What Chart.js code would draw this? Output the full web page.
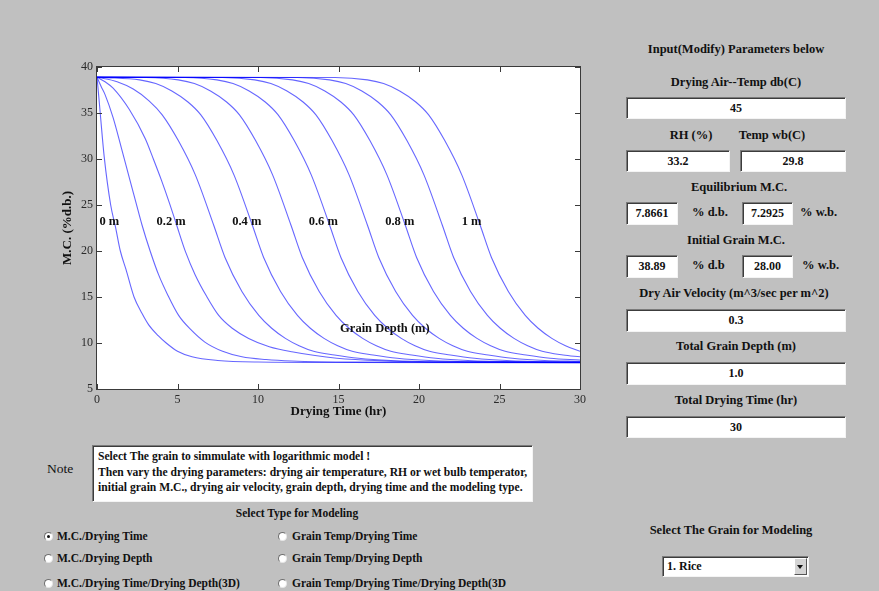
<!DOCTYPE html>
<html>
<head>
<meta charset="utf-8">
<title>Grain Drying Simulation</title>
<script src="https://cdn.jsdelivr.net/npm/chart.js@4.4.0/dist/chart.umd.min.js"></script>
<style>
    html, body {
        margin: 0;
        padding: 0;
    }
    body {
        width: 879px;
        height: 591px;
        overflow: hidden;
        position: relative;
        background: #c0c0c0;
        font-family: "Liberation Serif", "DejaVu Serif", serif;
    }
    #dryingChart {
        position: absolute;
        left: 0;
        top: 0;
    }
    .lbl {
        position: absolute;
        font-size: 12.5px;
        font-weight: bold;
        line-height: 14px;
        color: #111;
        white-space: nowrap;
    }
    .sm {
        font-size: 11.5px;
    }
    .ctr {
        text-align: center;
    }
    .edit {
        position: absolute;
        box-sizing: border-box;
        background: #fff;
        border-top: 1px solid #7b7b7b;
        border-left: 1px solid #7b7b7b;
        border-bottom: 1px solid #f4f4f4;
        border-right: 1px solid #f4f4f4;
        box-shadow: inset 1px 1px 0 #3c3c3c;
        font-size: 12px;
        font-weight: bold;
        color: #111;
        text-align: center;
        white-space: nowrap;
    }
    .radio {
        position: absolute;
        width: 9px;
        height: 9px;
        box-sizing: border-box;
        border-radius: 50%;
        background: #fff;
        border-top: 1px solid #6e6e6e;
        border-left: 1px solid #6e6e6e;
        border-bottom: 1px solid #e6e6e6;
        border-right: 1px solid #e6e6e6;
    }
    .radio.on::after {
        content: "";
        position: absolute;
        left: 2px;
        top: 2px;
        width: 3px;
        height: 3px;
        border-radius: 50%;
        background: #111;
    }
</style>
</head>
<body>

<canvas id="dryingChart" width="600" height="430"></canvas>

<!-- ================= RIGHT PANEL ================= -->

<div class="lbl ctr" style="left:626px;top:42px;width:220px;">Input(Modify) Parameters below</div>
<div class="lbl ctr" style="left:626px;top:75px;width:220px;">Drying Air--Temp db(C)</div>
<div class="edit" style="left:626px;top:97px;width:220px;height:22px;line-height:20px;">45</div>

<div class="lbl ctr" style="left:651px;top:128px;width:80px;">RH (%)</div>
<div class="lbl ctr" style="left:732px;top:128px;width:80px;">Temp wb(C)</div>
<div class="edit" style="left:626px;top:150px;width:104px;height:22px;line-height:20px;">33.2</div>
<div class="edit" style="left:740px;top:150px;width:106px;height:22px;line-height:20px;">29.8</div>

<div class="lbl ctr" style="left:629px;top:180px;width:220px;">Equilibrium M.C.</div>
<div class="edit" style="left:626px;top:202px;width:52px;height:23px;line-height:21px;">7.8661</div>
<div class="lbl" style="left:692px;top:205px;">% d.b.</div>
<div class="edit" style="left:742px;top:202px;width:51px;height:23px;line-height:21px;">7.2925</div>
<div class="lbl" style="left:800px;top:205px;">% w.b.</div>

<div class="lbl ctr" style="left:626px;top:233px;width:220px;">Initial Grain M.C.</div>
<div class="edit" style="left:626px;top:255px;width:52px;height:23px;line-height:21px;">38.89</div>
<div class="lbl" style="left:692px;top:258px;">% d.b</div>
<div class="edit" style="left:742px;top:255px;width:51px;height:23px;line-height:21px;">28.00</div>
<div class="lbl" style="left:802px;top:258px;">% w.b.</div>

<div class="lbl ctr" style="left:624px;top:286px;width:220px;">Dry Air Velocity (m^3/sec per m^2)</div>
<div class="edit" style="left:626px;top:309px;width:220px;height:23px;line-height:21px;">0.3</div>

<div class="lbl ctr" style="left:626px;top:339px;width:220px;">Total Grain Depth (m)</div>
<div class="edit" style="left:626px;top:362px;width:220px;height:23px;line-height:21px;">1.0</div>

<div class="lbl ctr" style="left:626px;top:393px;width:220px;">Total Drying Time (hr)</div>
<div class="edit" style="left:626px;top:416px;width:220px;height:22px;line-height:20px;">30</div>

<div class="lbl ctr" style="left:621px;top:523px;width:220px;">Select The Grain for Modeling</div>
<div class="edit" style="left:662px;top:556px;width:147px;height:21px;line-height:19px;text-align:left;padding-left:4px;">1. Rice</div>
<div style="position:absolute;left:794px;top:558px;width:13px;height:17px;box-sizing:border-box;background:#d4d4d4;border-top:1px solid #fff;border-left:1px solid #fff;border-bottom:1px solid #555;border-right:1px solid #555;">
    <div style="position:absolute;left:2px;top:6px;width:0;height:0;border-left:3.5px solid transparent;border-right:3.5px solid transparent;border-top:4px solid #111;"></div>
</div>

<!-- ================= NOTE + MODEL TYPE ================= -->

<div class="lbl" style="left:47px;top:462px;font-size:13.5px;font-weight:normal;">Note</div>
<div class="edit" style="left:92px;top:445px;width:441px;height:57px;text-align:left;padding:3px 0 0 5px;line-height:15.5px;font-size:11.6px;">
    Select The grain to simmulate with logarithmic model !<br>
    Then vary the drying parameters: drying air temperature, RH or wet bulb temperator,<br>
    initial grain M.C., drying air velocity, grain depth, drying time and the modeling type.
</div>

<div class="lbl sm ctr" style="left:187px;top:506px;width:220px;">Select Type for Modeling</div>

<span class="radio on" style="left:44px;top:532px;"></span>
<div class="lbl sm" style="left:57px;top:529px;">M.C./Drying Time</div>
<span class="radio" style="left:44px;top:554px;"></span>
<div class="lbl sm" style="left:57px;top:551px;">M.C./Drying Depth</div>
<span class="radio" style="left:44px;top:579px;"></span>
<div class="lbl sm" style="left:57px;top:576px;">M.C./Drying Time/Drying Depth(3D)</div>

<span class="radio" style="left:278px;top:532px;"></span>
<div class="lbl sm" style="left:292px;top:529px;">Grain Temp/Drying Time</div>
<span class="radio" style="left:278px;top:554px;"></span>
<div class="lbl sm" style="left:292px;top:551px;">Grain Temp/Drying Depth</div>
<span class="radio" style="left:278px;top:579px;"></span>
<div class="lbl sm" style="left:292px;top:576px;">Grain Temp/Drying Time/Drying Depth(3D</div>

<script>
/* =====================================================
   DEEP BED DRYING – M.C. vs DRYING TIME
===================================================== */

/* ================= DATA ================= */

const depthNames = ["0 m", "0.1 m", "0.2 m", "0.3 m", "0.4 m", "0.5 m",
                    "0.6 m", "0.7 m", "0.8 m", "0.9 m", "1 m"];

const labelledDepths = ["0 m", "0.2 m", "0.4 m", "0.6 m", "0.8 m", "1 m"];

const xTickValues = [0, 5, 10, 15, 20, 25, 30];
const yTickValues = [5, 10, 15, 20, 25, 30, 35, 40];

// [drying time (hr), M.C. (% d.b.)]
const mc00 = [[0,38.89],[0.1,37.0],[0.2,35.0],[0.45,30.2],[0.85,25.0],[1.15,22.6],[1.45,20.0],
              [1.8,18.0],[2.3,15.0],[2.8,13.2],[3.2,12.0],[3.8,10.8],[4.3,10.0],[5.0,9.1],
              [5.9,8.5],[7.5,8.1],[10,7.93],[15,7.88],[30,7.87]];

const mc01 = [[0,38.89],[0.25,37.9],[0.5,37.0],[1,34.5],[1.5,31.3],[2,28.0],[2.4,25.4],[2.8,22.8],
              [3.3,20.0],[3.83,17.4],[4.4,15.2],[5.07,13.0],[5.8,11.5],[6.7,10.1],[7.8,9.1],
              [9,8.5],[10.5,8.2],[12.1,8.04],[16,7.92],[30,7.87]];

const mc02 = [[0,38.89],[0.5,38.4],[1,37.7],[2,35.4],[3,32.2],[3.5,30.0],[4,27.7],[4.5,25.2],
              [4.95,22.8],[5.5,19.9],[6.1,17.4],[6.8,15.1],[7.56,13.0],[8.4,11.6],[9.42,10.5],
              [10.7,9.6],[12.1,9.05],[14.9,8.34],[18,8.05],[22,7.93],[30,7.88]];

const mc03 = [[0,38.89],[1.25,38.4],[2.25,37.6],[3.25,36.3],[4.05,34.8],[5.05,32.0],[6.1,28.3],
              [7.25,22.8],[7.95,19.3],[9.0,15.6],[10.05,13.0],[10.85,11.6],[11.7,10.5],[12.55,9.7],
              [13.45,9.1],[14.75,8.7],[16.25,8.35],[18.25,8.1],[21.25,7.95],[30,7.88]];

const mc04 = [[0,38.89],[0.65,38.85],[2.65,38.6],[3.65,38.2],[4.65,37.4],[5.65,36.2],[6.45,34.8],
              [7.45,32.0],[8.5,28.3],[9.65,22.8],[10.35,19.3],[11.4,15.6],[12.45,13.0],[13.25,11.6],
              [14.1,10.5],[14.95,9.7],[15.85,9.1],[17.15,8.7],[18.65,8.35],[20.65,8.1],[23.65,7.95],[30,7.9]];

const mc05 = [[0,38.89],[3.05,38.86],[5.05,38.6],[6.05,38.2],[7.05,37.4],[8.05,36.2],[8.85,34.8],
              [9.85,32.0],[10.9,28.3],[12.05,22.8],[12.75,19.3],[13.8,15.6],[14.85,13.0],[15.65,11.6],
              [16.5,10.5],[17.35,9.7],[18.25,9.1],[19.55,8.7],[21.05,8.35],[23.05,8.1],[26.05,7.95],[30,7.91]];

const mc06 = [[0,38.89],[5.45,38.86],[7.45,38.6],[8.45,38.2],[9.45,37.4],[10.45,36.2],[11.25,34.8],
              [12.25,32.0],[13.3,28.3],[14.45,22.8],[15.15,19.3],[16.2,15.6],[17.25,13.0],[18.05,11.6],
              [18.9,10.5],[19.75,9.7],[20.65,9.1],[21.95,8.7],[23.45,8.35],[25.45,8.1],[28.45,7.95],[30,7.93]];

const mc07 = [[0,38.89],[7.8,38.86],[9.8,38.6],[10.8,38.2],[11.8,37.4],[12.8,36.2],[13.6,34.8],
              [14.6,32.0],[15.65,28.3],[16.8,22.8],[17.5,19.3],[18.55,15.6],[19.6,13.0],[20.4,11.6],
              [21.25,10.5],[22.1,9.7],[23.0,9.1],[24.3,8.7],[25.8,8.35],[27.8,8.1],[30,8.0]];

const mc08 = [[0,38.89],[10.15,38.86],[12.15,38.6],[13.15,38.2],[14.15,37.4],[15.15,36.2],[15.95,34.8],
              [16.95,32.0],[18.0,28.3],[19.15,22.8],[19.85,19.3],[20.9,15.6],[21.95,13.0],[22.75,11.6],
              [23.6,10.5],[24.45,9.7],[25.35,9.1],[26.65,8.7],[28.15,8.35],[30,8.15]];

const mc09 = [[0,38.89],[12.45,38.86],[14.45,38.6],[15.45,38.2],[16.45,37.4],[17.45,36.2],[18.25,34.8],
              [19.25,32.0],[20.3,28.3],[21.45,22.8],[22.15,19.3],[23.2,15.6],[24.25,13.0],[25.05,11.6],
              [25.9,10.5],[26.75,9.7],[27.65,9.1],[28.95,8.7],[30,8.5]];

const mc10 = [[0,38.89],[14.8,38.86],[16.8,38.6],[17.8,38.2],[18.8,37.4],[19.8,36.2],[20.6,34.8],
              [21.6,32.0],[22.65,28.3],[23.8,22.8],[24.5,19.3],[25.55,15.6],[26.6,13.0],[27.4,11.6],
              [28.25,10.5],[29.1,9.7],[30,9.1]];

const mcSeries = [mc00, mc01, mc02, mc03, mc04, mc05, mc06, mc07, mc08, mc09, mc10];

/* ================= TEXT PLACEMENT (data units) ================= */

const depthLabelTimes = [0.15, 3.7, 8.4, 13.15, 17.9, 22.65];
const depthLabelMC = 23.2;
const depthTitle = "Grain Depth (m)";
const depthTitleAt = [15.1, 11.6];

/* ================= AXES BOX PLUGIN ================= */

const axesBox = {
    id: "axesBox",

    beforeDraw(chart) {
        const { ctx, chartArea: a } = chart;
        ctx.save();
        ctx.fillStyle = "#ffffff";
        ctx.fillRect(a.left, a.top, a.width, a.height);
        ctx.restore();
    },

    afterDatasetsDraw(chart) {
        const { ctx, chartArea: a, scales: { x, y } } = chart;
        const tick = 5;

        ctx.save();
        ctx.strokeStyle = "#3a3a3a";
        ctx.lineWidth = 1;
        ctx.strokeRect(a.left - 0.5, a.top - 0.5, a.width + 1, a.height + 1);

        ctx.beginPath();
        xTickValues.forEach(v => {
            const px = Math.round(x.getPixelForValue(v)) + 0.5;
            ctx.moveTo(px, a.bottom);
            ctx.lineTo(px, a.bottom - tick);
            ctx.moveTo(px, a.top);
            ctx.lineTo(px, a.top + tick);
        });
        yTickValues.forEach(v => {
            const py = Math.round(y.getPixelForValue(v)) + 0.5;
            ctx.moveTo(a.left, py);
            ctx.lineTo(a.left + tick, py);
            ctx.moveTo(a.right, py);
            ctx.lineTo(a.right - tick, py);
        });
        ctx.stroke();

        /* ===== depth labels ===== */
        ctx.fillStyle = "#111";
        ctx.font = "bold 12.5px 'Liberation Serif'";
        ctx.textAlign = "left";
        ctx.textBaseline = "middle";

        labelledDepths.forEach((name, i) => {
            ctx.fillText(name,
                x.getPixelForValue(depthLabelTimes[i]),
                y.getPixelForValue(depthLabelMC));
        });

        ctx.fillText(depthTitle,
            x.getPixelForValue(depthTitleAt[0]),
            y.getPixelForValue(depthTitleAt[1]));

        ctx.restore();
    }
};

/* ================= CHART ================= */

const tickFont = { family: "'Liberation Serif'", size: 12 };
const titleFont = { family: "'Liberation Serif'", size: 13, weight: "bold" };

new Chart(document.getElementById("dryingChart"), {
    type: "line",
    data: {
        datasets: mcSeries.map((series, i) => ({
            label: depthNames[i],
            data: series.map(([t, mc]) => ({ x: t, y: mc })),
            borderColor: "rgba(0, 0, 255, 0.6)",
            borderWidth: 1.1,
            pointRadius: 0,
            fill: false,
            cubicInterpolationMode: "monotone"
        }))
    },
    options: {
        responsive: false,
        animation: false,
        devicePixelRatio: 1,
        layout: {
            padding: { left: 60, top: 67, right: 20, bottom: 11 }
        },
        plugins: {
            legend: { display: false },
            tooltip: { enabled: false }
        },
        scales: {
            x: {
                type: "linear",
                min: 0,
                max: 30,
                afterBuildTicks: s => { s.ticks = xTickValues.map(v => ({ value: v })); },
                afterFit: s => { s.height = 30; },
                grid: { display: false, drawTicks: false },
                border: { display: false },
                ticks: { font: tickFont, color: "#2a2a2a", padding: 4, maxRotation: 0 },
                title: {
                    display: true,
                    text: "Drying Time (hr)",
                    font: titleFont,
                    color: "#111",
                    padding: { top: 0, bottom: 0 }
                }
            },
            y: {
                type: "linear",
                min: 5,
                max: 40,
                afterBuildTicks: s => { s.ticks = yTickValues.map(v => ({ value: v })); },
                afterFit: s => { s.width = 37; },
                grid: { display: false, drawTicks: false },
                border: { display: false },
                ticks: { font: tickFont, color: "#2a2a2a", padding: 4 },
                title: {
                    display: true,
                    text: "M.C. (%d.b.)",
                    font: titleFont,
                    color: "#111",
                    padding: { top: 0, bottom: 0 }
                }
            }
        }
    },
    plugins: [axesBox]
});
</script>
</body>
</html>
